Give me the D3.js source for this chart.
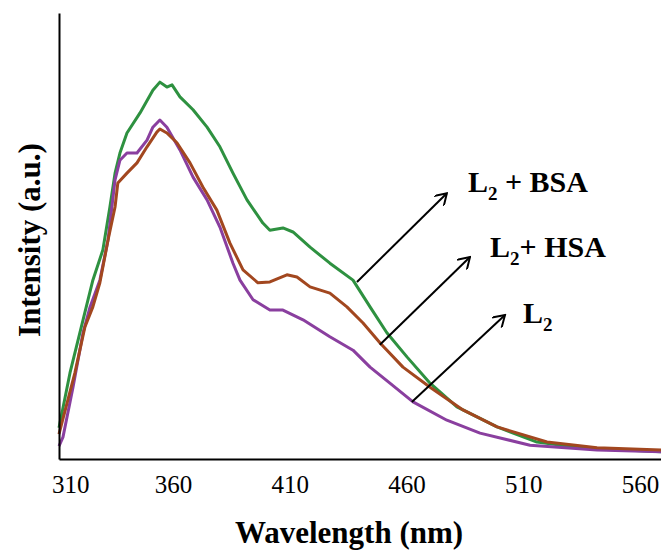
<!DOCTYPE html>
<html>
<head>
<meta charset="utf-8">
<script src="https://cdn.jsdelivr.net/npm/d3@7"></script>
<style>
  body { margin: 0; background: #fff; }
  svg { display: block; }
</style>
</head>
<body>
<div id="chart"></div>
<script>
// wavelength (nm) / intensity (a.u.)
const bsaWave = [311.2, 315.9, 321.5, 325.7, 330.0, 333.0, 335.2, 337.3, 340.3, 345.9, 351.4, 354.4, 357.4, 359.6, 363.0, 368.6, 374.6, 380.1, 385.7, 391.7, 398.5, 401.5, 407.1, 411.4, 418.7, 427.2, 437.1, 444.4, 451.6, 460.2, 470.1, 481.6, 498.8, 515.9, 534.3, 569.0];
const bsaInt  = [7.0, 19.3, 31.2, 40.1, 46.9, 56.5, 64.1, 68.6, 73.1, 77.6, 82.7, 84.5, 83.4, 83.9, 81.2, 78.3, 74.4, 70.0, 64.1, 58.1, 52.9, 51.3, 51.8, 50.9, 47.5, 43.9, 40.1, 34.1, 28.3, 22.9, 17.0, 11.7, 7.2, 3.8, 2.5, 1.6];

const hsaWave = [311.2, 318.0, 322.3, 325.7, 328.7, 332.2, 335.2, 336.4, 340.3, 344.6, 348.9, 353.1, 354.4, 357.4, 361.7, 367.3, 372.8, 378.8, 384.4, 390.0, 396.4, 401.5, 408.8, 413.1, 418.7, 427.2, 434.5, 441.4, 448.7, 458.5, 470.1, 484.2, 498.8, 520.2, 541.6, 569.0];
const hsaInt  = [5.6, 19.3, 29.6, 34.1, 39.5, 49.1, 56.5, 61.9, 64.1, 66.4, 70.0, 73.3, 74.0, 73.1, 70.9, 66.4, 61.0, 55.8, 48.4, 42.4, 39.5, 39.7, 41.3, 40.8, 38.6, 37.2, 34.1, 30.5, 26.0, 20.6, 16.1, 11.0, 7.2, 3.8, 2.5, 2.0];

const l2Wave = [311.2, 312.9, 317.2, 321.5, 324.5, 328.7, 332.2, 335.2, 337.3, 340.3, 344.6, 348.9, 351.4, 354.4, 357.4, 363.0, 368.6, 374.6, 380.1, 385.7, 388.7, 394.3, 401.5, 407.1, 415.7, 427.2, 437.1, 444.4, 452.9, 462.8, 477.3, 491.5, 512.9, 541.6, 569.0];
const l2Int  = [2.9, 4.9, 16.1, 28.3, 34.1, 40.1, 49.1, 62.6, 67.0, 68.6, 68.6, 71.5, 74.4, 76.0, 74.4, 69.3, 63.2, 58.1, 52.0, 43.9, 40.1, 35.7, 33.4, 33.4, 31.2, 27.4, 24.4, 20.6, 17.0, 12.8, 8.7, 5.8, 3.1, 2.0, 1.6];

const xTicks = [310, 360, 410, 460, 510, 560];

// arrow annotations in data units: from / to / label anchor
const notes = [
  {name: "BSA", sep: " + ", from: [438.8, 39.7], to: [477.3, 59.6], at: [486.3, 59.9]},
  {name: "HSA", sep: "+ ",  from: [448.6, 25.6], to: [487.2, 45.3], at: [495.8, 45.3]},
  {name: "",    sep: "",    from: [462.3, 12.8], to: [502.2, 32.3], at: [509.9, 30.5]}
];

const series = [
  {wave: bsaWave, val: bsaInt, color: "#2e9140"},
  {wave: l2Wave,  val: l2Int,  color: "#8a3f9f"},
  {wave: hsaWave, val: hsaInt, color: "#a2471f"}
];

const width = 661, height = 551;
const box = {left: 59, top: 13, right: 661, bottom: 459};

const svg = d3.select("#chart").append("svg")
  .attr("width", width)
  .attr("height", height);

const x = d3.scaleLinear().domain([311.2, 569]).range([box.left, box.right]);
const y = d3.scaleLinear().domain([0, 100]).range([box.bottom, box.top]);

// curves
const line = d3.line()
  .x(d => x(d[0]))
  .y(d => y(d[1]));

series.forEach(s => {
  svg.append("path")
    .datum(s.wave.map((w, i) => [w, s.val[i]]))
    .attr("fill", "none")
    .attr("stroke", s.color)
    .attr("stroke-width", 3)
    .attr("stroke-linejoin", "round")
    .attr("d", line);
});

// x axis, no tick marks
const xg = svg.append("g")
  .attr("transform", `translate(0, ${box.bottom})`)
  .call(d3.axisBottom(x).tickValues(xTicks).tickSize(0).tickSizeOuter(0).tickFormat(d3.format("d")));
xg.select(".domain").attr("stroke", "#000").attr("stroke-width", 2);
xg.selectAll(".tick text")
  .attr("font-size", 25)
  .attr("fill", "#000")
  .attr("dy", "1.25em")
  .attr("dx", (d, i) => i === 0 ? 14 : 0);

// y axis, plain line
const yg = svg.append("g")
  .attr("transform", `translate(${box.left}, 0)`)
  .call(d3.axisLeft(y).tickValues([]).tickSizeOuter(0));
yg.select(".domain").attr("stroke", "#000").attr("stroke-width", 2);

// axis titles
svg.append("text")
  .text("Wavelength (nm)")
  .attr("x", 349)
  .attr("y", 543)
  .attr("text-anchor", "middle")
  .attr("font-weight", "bold")
  .attr("font-size", 31);

svg.append("text")
  .text("Intensity (a.u.)")
  .attr("transform", "translate(40, 240) rotate(-90)")
  .attr("text-anchor", "middle")
  .attr("font-weight", "bold")
  .attr("font-size", 31);

// arrows
svg.append("defs").append("marker")
  .attr("id", "head")
  .attr("viewBox", "0 0 10 10")
  .attr("refX", 9).attr("refY", 5)
  .attr("markerWidth", 14).attr("markerHeight", 14)
  .attr("markerUnits", "userSpaceOnUse")
  .attr("orient", "auto")
  .append("path")
  .attr("d", "M1,0 L9,5 L1,10")
  .attr("fill", "none")
  .attr("stroke", "#000")
  .attr("stroke-width", 1.4);

notes.forEach(n => {
  svg.append("line")
    .attr("x1", x(n.from[0])).attr("y1", y(n.from[1]))
    .attr("x2", x(n.to[0])).attr("y2", y(n.to[1]))
    .attr("stroke", "#000")
    .attr("stroke-width", 2)
    .attr("marker-end", "url(#head)");

  const t = svg.append("text")
    .attr("x", x(n.at[0]))
    .attr("y", y(n.at[1]))
    .attr("font-weight", "bold")
    .attr("font-size", 30)
    .attr("fill", "#000");
  t.append("tspan").text("L");
  t.append("tspan").text("2").attr("font-size", 19).attr("dy", 8);
  if (n.name) {
    t.append("tspan").text(n.sep + n.name).attr("dy", -8);
  }
});

// Times-like face on every text element
svg.selectAll("text").style("font-family", '"Liberation Serif"');
</script>
</body>
</html>
